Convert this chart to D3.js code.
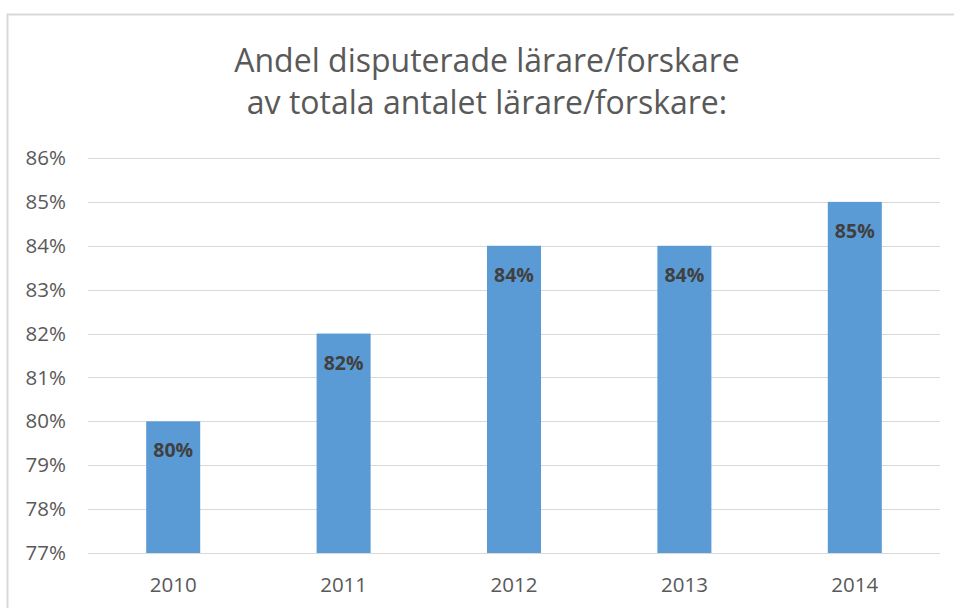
<!DOCTYPE html>
<html><head><meta charset="utf-8">
<script src="https://cdn.jsdelivr.net/npm/d3@7"></script>
<style>body{margin:0;background:#fff}svg{display:block}text{font-family:"Open Sans",sans-serif}</style>
</head><body>
<svg id="c" width="954" height="608"></svg>
<script>
const categories = ["2010","2011","2012","2013","2014"];
const values = [0.80, 0.82, 0.84, 0.84, 0.85];
const yTicks = [0.77,0.78,0.79,0.80,0.81,0.82,0.83,0.84,0.85,0.86];
const titleLines = ["Andel disputerade lärare/forskare","av totala antalet lärare/forskare:"];

const svg = d3.select("#c");
svg.append("rect").attr("x",7.5).attr("y",14.5).attr("width",1000).attr("height",700)
  .attr("fill","#fff").attr("stroke","#d9d9d9").attr("stroke-width",2);

const m = {left:88, right:940, top:158, bottom:553};
const x = d3.scaleBand().domain(categories).range([m.left,m.right]).paddingInner(0.683).paddingOuter(0.3415);
const y = d3.scaleLinear().domain([0.77,0.86]).range([m.bottom,m.top]);

svg.append("g").selectAll("line").data(yTicks).join("line")
  .attr("x1",m.left).attr("x2",m.right).attr("y1",d=>Math.round(y(d))+0.5).attr("y2",d=>Math.round(y(d))+0.5)
  .attr("stroke","#d9d9d9").attr("stroke-width",1);

const fmt = d3.format(".0%");
const yAxis = svg.append("g").attr("transform",`translate(${m.left},0)`)
  .call(d3.axisLeft(y).tickValues(yTicks).tickFormat(fmt).tickSize(0).tickPadding(22));
yAxis.select(".domain").remove();
yAxis.selectAll("text").attr("font-size",20.5).attr("fill","#595959").attr("font-family","Open Sans, sans-serif");

svg.append("g").selectAll("rect").data(values).join("rect")
  .attr("x",(d,i)=>x(categories[i])).attr("width",x.bandwidth())
  .attr("y",d=>y(d)).attr("height",d=>y(0.77)-y(d)).attr("fill","#5b9bd5");

svg.append("g").selectAll("text").data(values).join("text")
  .attr("x",(d,i)=>x(categories[i])+x.bandwidth()/2).attr("y",d=>y(d)+36)
  .attr("text-anchor","middle").attr("font-size",19.5).attr("font-weight","bold").attr("fill","#404040")
  .text(d=>fmt(d));

const xAxis = svg.append("g").attr("transform",`translate(0,${m.bottom})`)
  .call(d3.axisBottom(x).tickSize(0).tickPadding(24));
xAxis.select(".domain").remove();
xAxis.selectAll("text").attr("font-size",20.5).attr("fill","#595959").attr("font-family","Open Sans, sans-serif");

svg.append("g").selectAll("text").data(titleLines).join("text")
  .attr("x",487).attr("y",(d,i)=>72+i*42).attr("text-anchor","middle")
  .attr("font-size",32).attr("fill","#595959").text(d=>d);
</script>
</body></html>
